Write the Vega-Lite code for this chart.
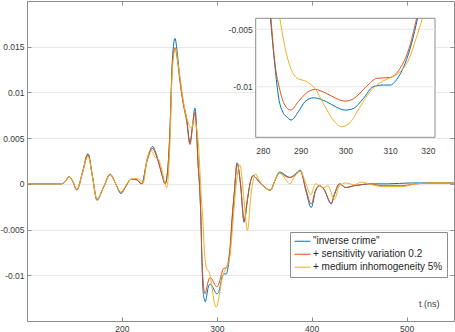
{
"$schema":"https://vega.github.io/schema/vega-lite/v6.json",
"width":427,"height":320,
"autosize":{"type":"none"},
"padding":{"left":27,"top":1,"right":1,"bottom":11},
"background":"white",
"config":{
 "font":"Liberation Sans",
 "view":{"stroke":"#8c8c8c","strokeWidth":1},
 "axis":{"labelFont":"Liberation Sans","labelFontSize":8.5,"labelColor":"#3a3a3a","domainColor":"#8c8c8c","tickColor":"#8c8c8c","gridColor":"#e8e8e8","titleFont":"Liberation Sans"},
 "legend":{"orient":"none","legendX":263,"legendY":231,"title":null,"fillColor":"white","strokeColor":"#8c8c8c","padding":4,"symbolType":"stroke","symbolSize":256,"symbolStrokeWidth":1,"labelFontSize":10,"labelFont":"Liberation Sans","labelColor":"#262626","rowPadding":2,"clipHeight":10.5,"labelOffset":2}
},
"datasets":{"d":[
{"s":"a","t":100,"v":0},{"s":"a","t":136,"v":0},{"s":"a","t":140,"v":0.0002},{"s":"a","t":144.5,"v":0.0008},{"s":"a","t":148.5,"v":0.0002},{"s":"a","t":152.5,"v":-0.00066},{"s":"a","t":158.5,"v":0.0013},{"s":"a","t":164.3,"v":0.0033},{"s":"a","t":169,"v":0.0008},{"s":"a","t":173.7,"v":-0.0018},{"s":"a","t":180.5,"v":-0.0004},{"s":"a","t":187.7,"v":0.00106},{"s":"a","t":193.5,"v":0},{"s":"a","t":199,"v":-0.00105},{"s":"a","t":204.5,"v":-0.0002},{"s":"a","t":209.5,"v":0.0005},{"s":"a","t":215.5,"v":0.00045},{"s":"a","t":221,"v":0},{"s":"a","t":226.3,"v":0.0025},{"s":"a","t":232.5,"v":0.0041},{"s":"a","t":235,"v":0.0036},{"s":"a","t":238.4,"v":0.0025},{"s":"a","t":242,"v":0.0011},{"s":"a","t":245.5,"v":0},{"s":"a","t":248,"v":0.0012},{"s":"a","t":250.5,"v":0.0055},{"s":"a","t":253.2,"v":0.0136},{"s":"a","t":256,"v":0.0159},{"s":"a","t":258.5,"v":0.0142},{"s":"a","t":261.2,"v":0.0114},{"s":"a","t":264.7,"v":0.0089},{"s":"a","t":268.3,"v":0.0071},{"s":"a","t":271.7,"v":0.0045},{"s":"a","t":274.5,"v":0.0065},{"s":"a","t":277,"v":0.0083},{"s":"a","t":280.5,"v":0.002},{"s":"a","t":282.2,"v":-0.0008},{"s":"a","t":283.3,"v":-0.00405},{"s":"a","t":284.3,"v":-0.00826},{"s":"a","t":285.1,"v":-0.0109},{"s":"a","t":286.2,"v":-0.01232},{"s":"a","t":286.9,"v":-0.01261},{"s":"a","t":287.9,"v":-0.0129},{"s":"a","t":289.5,"v":-0.01218},{"s":"a","t":291,"v":-0.0113},{"s":"a","t":292.9,"v":-0.01096},{"s":"a","t":295.8,"v":-0.0113},{"s":"a","t":298.1,"v":-0.0118},{"s":"a","t":299.9,"v":-0.01203},{"s":"a","t":301.8,"v":-0.01189},{"s":"a","t":304,"v":-0.01102},{"s":"a","t":306.2,"v":-0.01},{"s":"a","t":308.5,"v":-0.00985},{"s":"a","t":310,"v":-0.00985},{"s":"a","t":311.4,"v":-0.0094},{"s":"a","t":313.3,"v":-0.008},{"s":"a","t":314.8,"v":-0.0062},{"s":"a","t":316.1,"v":-0.00405},{"s":"a","t":318.5,"v":-0.001},{"s":"a","t":321.4,"v":0.0023},{"s":"a","t":325,"v":0},{"s":"a","t":328.8,"v":-0.0042},{"s":"a","t":332,"v":-0.002},{"s":"a","t":335,"v":0},{"s":"a","t":338.3,"v":0.0009},{"s":"a","t":341,"v":0.0007},{"s":"a","t":344,"v":0.0003},{"s":"a","t":348.7,"v":-0.0002},{"s":"a","t":356.7,"v":-0.0007},{"s":"a","t":361,"v":0.0003},{"s":"a","t":366.3,"v":0.0013},{"s":"a","t":373,"v":0.0009},{"s":"a","t":377,"v":0.0007},{"s":"a","t":382,"v":0.001},{"s":"a","t":388,"v":0.0015},{"s":"a","t":394,"v":-0.0008},{"s":"a","t":399.6,"v":-0.0026},{"s":"a","t":404,"v":-0.0008},{"s":"a","t":408.3,"v":-0.0002},{"s":"a","t":413,"v":-0.0006},{"s":"a","t":420.6,"v":-0.0022},{"s":"a","t":424,"v":-0.0012},{"s":"a","t":429.3,"v":0},{"s":"a","t":436,"v":-0.0004},{"s":"a","t":445,"v":-0.0002},{"s":"a","t":452,"v":-0.0001},{"s":"a","t":460,"v":0},{"s":"a","t":480,"v":0},{"s":"a","t":505,"v":0.0001},{"s":"a","t":530,"v":0.0001},{"s":"a","t":550,"v":0.0001},
{"s":"b","t":100,"v":0},{"s":"b","t":136,"v":0},{"s":"b","t":140,"v":0.0002},{"s":"b","t":144.5,"v":0.0008},{"s":"b","t":148.5,"v":0.0002},{"s":"b","t":152.5,"v":-0.00066},{"s":"b","t":158.5,"v":0.0012},{"s":"b","t":164.3,"v":0.0032},{"s":"b","t":169,"v":0.0008},{"s":"b","t":173.7,"v":-0.0017},{"s":"b","t":180.5,"v":-0.0004},{"s":"b","t":187.7,"v":0.001},{"s":"b","t":193.5,"v":0},{"s":"b","t":199,"v":-0.001},{"s":"b","t":204.5,"v":-0.0002},{"s":"b","t":209.5,"v":0.0005},{"s":"b","t":215.5,"v":0.00045},{"s":"b","t":221,"v":0},{"s":"b","t":226.3,"v":0.0024},{"s":"b","t":232.5,"v":0.0039},{"s":"b","t":235,"v":0.0034},{"s":"b","t":238.4,"v":0.0024},{"s":"b","t":242,"v":0.0011},{"s":"b","t":245.5,"v":0},{"s":"b","t":248,"v":0.0012},{"s":"b","t":250.5,"v":0.0053},{"s":"b","t":253.2,"v":0.013},{"s":"b","t":256,"v":0.0149},{"s":"b","t":258.5,"v":0.0135},{"s":"b","t":261.2,"v":0.0112},{"s":"b","t":264.7,"v":0.0087},{"s":"b","t":268.3,"v":0.0068},{"s":"b","t":271.7,"v":0.0043},{"s":"b","t":274.5,"v":0.0062},{"s":"b","t":277,"v":0.0078},{"s":"b","t":280.5,"v":0.0018},{"s":"b","t":282.2,"v":-0.001},{"s":"b","t":283.4,"v":-0.00405},{"s":"b","t":284.3,"v":-0.00797},{"s":"b","t":285.4,"v":-0.0103},{"s":"b","t":286.5,"v":-0.0116},{"s":"b","t":287.8,"v":-0.01203},{"s":"b","t":289.5,"v":-0.0113},{"s":"b","t":291.4,"v":-0.01052},{"s":"b","t":293.2,"v":-0.01023},{"s":"b","t":295.8,"v":-0.01058},{"s":"b","t":298.1,"v":-0.01105},{"s":"b","t":299.9,"v":-0.01125},{"s":"b","t":301.8,"v":-0.01105},{"s":"b","t":304.8,"v":-0.00994},{"s":"b","t":307,"v":-0.00927},{"s":"b","t":310,"v":-0.00919},{"s":"b","t":312.2,"v":-0.0084},{"s":"b","t":314.1,"v":-0.0068},{"s":"b","t":315.9,"v":-0.00405},{"s":"b","t":318.5,"v":-0.0009},{"s":"b","t":321.4,"v":0.0022},{"s":"b","t":325,"v":0},{"s":"b","t":328.8,"v":-0.004},{"s":"b","t":332,"v":-0.0019},{"s":"b","t":335,"v":0},{"s":"b","t":338.3,"v":0.0009},{"s":"b","t":341,"v":0.0007},{"s":"b","t":344,"v":0.0003},{"s":"b","t":348.7,"v":-0.0002},{"s":"b","t":356.7,"v":-0.0007},{"s":"b","t":361,"v":0.0003},{"s":"b","t":366.3,"v":0.0012},{"s":"b","t":373,"v":0.0008},{"s":"b","t":377,"v":0.0007},{"s":"b","t":382,"v":0.0009},{"s":"b","t":388,"v":0.0014},{"s":"b","t":394,"v":-0.0006},{"s":"b","t":399.6,"v":-0.0022},{"s":"b","t":404,"v":-0.0007},{"s":"b","t":408.3,"v":-0.0002},{"s":"b","t":413,"v":-0.0006},{"s":"b","t":420.6,"v":-0.0021},{"s":"b","t":424,"v":-0.0011},{"s":"b","t":429.3,"v":0},{"s":"b","t":436,"v":-0.0004},{"s":"b","t":445,"v":-0.0002},{"s":"b","t":452,"v":-0.0001},{"s":"b","t":460,"v":0},{"s":"b","t":475,"v":-0.0002},{"s":"b","t":495,"v":-0.0002},{"s":"b","t":510,"v":0},{"s":"b","t":530,"v":0.0001},{"s":"b","t":550,"v":0.0001},
{"s":"c","t":100,"v":0},{"s":"c","t":136,"v":0},{"s":"c","t":140,"v":0.0002},{"s":"c","t":144.5,"v":0.0008},{"s":"c","t":148.5,"v":0.0002},{"s":"c","t":152.5,"v":-0.0006},{"s":"c","t":158.5,"v":0.0012},{"s":"c","t":164.3,"v":0.003},{"s":"c","t":169,"v":0.0008},{"s":"c","t":173.7,"v":-0.0017},{"s":"c","t":180.5,"v":-0.0004},{"s":"c","t":187.7,"v":0.001},{"s":"c","t":193.5,"v":0},{"s":"c","t":199,"v":-0.0009},{"s":"c","t":204.5,"v":-0.0001},{"s":"c","t":209.5,"v":0.0005},{"s":"c","t":216.5,"v":0.0006},{"s":"c","t":222.5,"v":0.0001},{"s":"c","t":226.5,"v":0.0027},{"s":"c","t":230.5,"v":0.0037},{"s":"c","t":233,"v":0.0033},{"s":"c","t":235,"v":0.0029},{"s":"c","t":238.4,"v":0.0027},{"s":"c","t":242,"v":0.0016},{"s":"c","t":245,"v":0.0002},{"s":"c","t":247.3,"v":-0.0004},{"s":"c","t":250.5,"v":0.004},{"s":"c","t":253.2,"v":0.0125},{"s":"c","t":256.5,"v":0.0148},{"s":"c","t":259,"v":0.0133},{"s":"c","t":261.2,"v":0.0117},{"s":"c","t":264.7,"v":0.0091},{"s":"c","t":268.3,"v":0.0072},{"s":"c","t":271,"v":0.0064},{"s":"c","t":273.5,"v":0.006},{"s":"c","t":275.5,"v":0.0069},{"s":"c","t":277,"v":0.0068},{"s":"c","t":280.5,"v":0.0045},{"s":"c","t":282.2,"v":0.0015},{"s":"c","t":283.5,"v":-0.0012},{"s":"c","t":285.4,"v":-0.00405},{"s":"c","t":286.5,"v":-0.00652},{"s":"c","t":287.7,"v":-0.00826},{"s":"c","t":289.1,"v":-0.00922},{"s":"c","t":291.4,"v":-0.00956},{"s":"c","t":293.2,"v":-0.01015},{"s":"c","t":295.1,"v":-0.01145},{"s":"c","t":297.3,"v":-0.0129},{"s":"c","t":299.2,"v":-0.01348},{"s":"c","t":301,"v":-0.01313},{"s":"c","t":303.3,"v":-0.01174},{"s":"c","t":305.5,"v":-0.01044},{"s":"c","t":307.7,"v":-0.00965},{"s":"c","t":310,"v":-0.00922},{"s":"c","t":312.2,"v":-0.0087},{"s":"c","t":314.1,"v":-0.00768},{"s":"c","t":315.9,"v":-0.00565},{"s":"c","t":317.2,"v":-0.00405},{"s":"c","t":320,"v":-0.0005},{"s":"c","t":324.3,"v":0.0021},{"s":"c","t":328.5,"v":-0.0015},{"s":"c","t":332.3,"v":-0.0051},{"s":"c","t":336.5,"v":-0.0008},{"s":"c","t":341,"v":0.0011},{"s":"c","t":344,"v":0.0005},{"s":"c","t":348.7,"v":-0.0002},{"s":"c","t":356.7,"v":-0.0007},{"s":"c","t":361,"v":0.0003},{"s":"c","t":366.3,"v":0.0012},{"s":"c","t":373,"v":0.0004},{"s":"c","t":377,"v":0},{"s":"c","t":382,"v":0.0008},{"s":"c","t":388,"v":0.0014},{"s":"c","t":394,"v":0},{"s":"c","t":399,"v":-0.0012},{"s":"c","t":404,"v":0},{"s":"c","t":408.3,"v":-0.0002},{"s":"c","t":413,"v":-0.0004},{"s":"c","t":417,"v":-0.0002},{"s":"c","t":424,"v":-0.0017},{"s":"c","t":429.3,"v":-0.0002},{"s":"c","t":436,"v":0.0001},{"s":"c","t":445,"v":-0.0001},{"s":"c","t":452,"v":0.0002},{"s":"c","t":460,"v":0},{"s":"c","t":475,"v":-0.0003},{"s":"c","t":495,"v":-0.0003},{"s":"c","t":510,"v":0},{"s":"c","t":530,"v":0.0001},{"s":"c","t":550,"v":0.0001}
]},
"layer":[
 {"layer":[
  {"data":{"name":"d"},
   "mark":{"type":"line","strokeWidth":1,"interpolate":"monotone"},
   "encoding":{
    "x":{"field":"t","type":"quantitative","scale":{"domain":[100,550],"nice":false,"zero":false},
     "axis":{"values":[200,300,400,500],"grid":false,"tickSize":-4,"labelPadding":7,"title":"t (ns)","titleX":412,"titleY":-18,"titleAlign":"right","titleBaseline":"middle","titleFontSize":9,"titleFontWeight":"normal","titleColor":"#3a3a3a"}},
    "y":{"field":"v","type":"quantitative","scale":{"domain":[-0.015,0.02],"nice":false,"zero":false},
     "axis":{"values":[-0.01,-0.005,0,0.005,0.01,0.015],"grid":true,"tickSize":-4,"labelPadding":7,"title":null,"labelExpr":"''+datum.value"}},
    "color":{"field":"s","type":"nominal","scale":{"domain":["a","b","c"],"range":["#0072BD","#D95319","#EDB120"]},
     "legend":{"labelExpr":"datum.label=='a'?'\"inverse crime\"':datum.label=='b'?'+ sensitivity variation 0.2':'+ medium inhomogeneity 5%'"}}
   }},
  {"data":{"name":"d"},
   "mark":{"type":"point","opacity":0},
   "encoding":{
    "x":{"field":"t","type":"quantitative","axis":{"orient":"top","values":[200,300,400,500],"labels":false,"tickSize":-4,"domain":false,"grid":false,"title":null}},
    "y":{"field":"v","type":"quantitative","axis":{"orient":"right","values":[-0.01,-0.005,0,0.005,0.01,0.015],"labels":false,"tickSize":-4,"domain":false,"grid":false,"title":null}}
   }}
 ],
 "resolve":{"axis":{"x":"independent","y":"independent"}}},
 {"layer":[
  {"data":{"values":[{"x1":280,"x2":320,"y1":-0.0144,"y2":-0.00404}]},
   "mark":{"type":"rect","fill":"white","stroke":"#8c8c8c","strokeWidth":1},
   "encoding":{
    "x":{"field":"x1","type":"quantitative","scale":{"domain":[280,320],"range":[228.7,408],"nice":false,"zero":false},
     "axis":{"orient":"bottom","offset":-183.7,"values":[280,290,300,310,320],"grid":false,"domain":false,"ticks":false,"labelPadding":9,"title":null}},
    "x2":{"field":"x2"},
    "y":{"field":"y1","type":"quantitative","scale":{"domain":[-0.0144,-0.00404],"range":[136.3,17.3],"nice":false,"zero":false},
     "axis":{"orient":"left","offset":-228.7,"values":[-0.01,-0.005],"grid":false,"domain":false,"ticks":false,"labelPadding":3.5,"title":null,"labelExpr":"''+datum.value"}},
    "y2":{"field":"y2"}
   }},
  {"data":{"values":[{"gy":-0.005},{"gy":-0.01}]},
   "mark":{"type":"rule","color":"#e8e8e8","strokeWidth":1},
   "encoding":{"y":{"field":"gy","type":"quantitative","axis":{"orient":"left","offset":-228.7,"values":[-0.01,-0.005],"grid":false,"domain":false,"ticks":false,"labelPadding":3.5,"title":null,"labelExpr":"''+datum.value"}},"x":{"datum":280,"axis":{"orient":"bottom","offset":-183.7,"values":[280,290,300,310,320],"grid":false,"domain":false,"ticks":false,"labelPadding":9,"title":null}},"x2":{"datum":320}}},
  {"data":{"name":"d"},
   "transform":[{"filter":"datum.t>=280 && datum.t<=318 && datum.v<=-0.004"}],
   "mark":{"type":"line","strokeWidth":1,"interpolate":"monotone"},
   "encoding":{"x":{"field":"t","type":"quantitative","axis":{"orient":"bottom","offset":-183.7,"values":[280,290,300,310,320],"grid":false,"domain":false,"ticks":false,"labelPadding":9,"title":null}},"y":{"field":"v","type":"quantitative","axis":{"orient":"left","offset":-228.7,"values":[-0.01,-0.005],"grid":false,"domain":false,"ticks":false,"labelPadding":3.5,"title":null,"labelExpr":"''+datum.value"}},"color":{"field":"s","type":"nominal"}}}
 ]}
],
"resolve":{"scale":{"x":"independent","y":"independent"}}
}
